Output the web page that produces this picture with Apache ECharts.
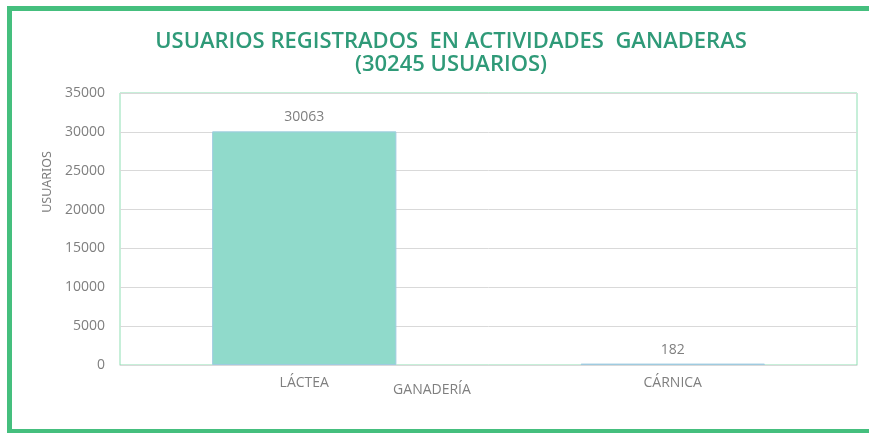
<!DOCTYPE html>
<html>
<head>
<meta charset="utf-8">
<script src="https://cdn.jsdelivr.net/npm/echarts@6/dist/echarts.min.js"></script>
<style>html,body{margin:0;padding:0;background:#fff;}#c{width:869px;height:433px;}</style>
</head>
<body>
<div id="c"></div>
<script>
const titleLines = ['USUARIOS REGISTRADOS  EN ACTIVIDADES  GANADERAS', '(30245 USUARIOS)'];
const categories = ['LÁCTEA', 'CÁRNICA'];
const usuarios = [30063, 182];
const yTicks = { min: 0, max: 35000, interval: 5000 };
const yName = 'USUARIOS';
const xName = 'GANADERÍA';

const chart = echarts.init(document.getElementById('c'), null, { renderer: 'canvas' });
const font = '"Open Sans", "Noto Sans", sans-serif';
chart.setOption({
  animation: false,
  backgroundColor: '#fff',
  title: {
    text: titleLines.join('\n'),
    left: 446, top: 25, textAlign: 'center',
    textStyle: { color: '#2f9a78', fontFamily: font, fontWeight: 600, fontSize: 22, lineHeight: 23 }
  },
  grid: { left: 120, right: 12, top: 93, bottom: 68, show: true, borderColor: '#8edfb3', borderWidth: 1, backgroundColor: '#fff' },
  xAxis: {
    type: 'category', data: categories,
    axisLine: { lineStyle: { color: '#d9d9d9', width: 1 } },
    axisTick: { show: false },
    axisLabel: { color: '#7f7f7f', fontFamily: font, fontSize: 14, margin: 11 }
  },
  yAxis: {
    type: 'value', min: yTicks.min, max: yTicks.max, interval: yTicks.interval,
    axisLine: { show: false }, axisTick: { show: false },
    splitLine: { lineStyle: { color: '#d9d9d9', width: 1 } },
    axisLabel: { color: '#7f7f7f', fontFamily: font, fontSize: 14, margin: 15, formatter: v => String(v) }
  },
  series: [{
    type: 'bar', data: usuarios, barWidth: '50%',
    itemStyle: { color: '#90dacb', borderColor: '#9fcbe0', borderWidth: 1 },
    label: { show: true, position: 'top', distance: 7, color: '#7f7f7f', fontFamily: font, fontSize: 14 }
  }],
  graphic: [
    { type: 'rect', shape: { x: 7, y: 6, width: 870, height: 5 }, style: { fill: '#45bf7e' }, z: 100 },
    { type: 'rect', shape: { x: 7, y: 6, width: 5, height: 427 }, style: { fill: '#45bf7e' }, z: 100 },
    { type: 'rect', shape: { x: 7, y: 429, width: 870, height: 5 }, style: { fill: '#45bf7e' }, z: 100 },
    { type: 'text', x: 47, y: 182, rotation: Math.PI / 2, style: { text: yName, fill: '#7f7f7f', font: '12.5px "Liberation Sans Narrow", "Noto Sans", sans-serif', textAlign: 'center', textVerticalAlign: 'middle' } },
    { type: 'text', x: 432, y: 390, style: { text: xName, fill: '#7f7f7f', font: '14px "Open Sans", sans-serif', textAlign: 'center', textVerticalAlign: 'middle' } }
  ]
});
</script>
</body>
</html>
